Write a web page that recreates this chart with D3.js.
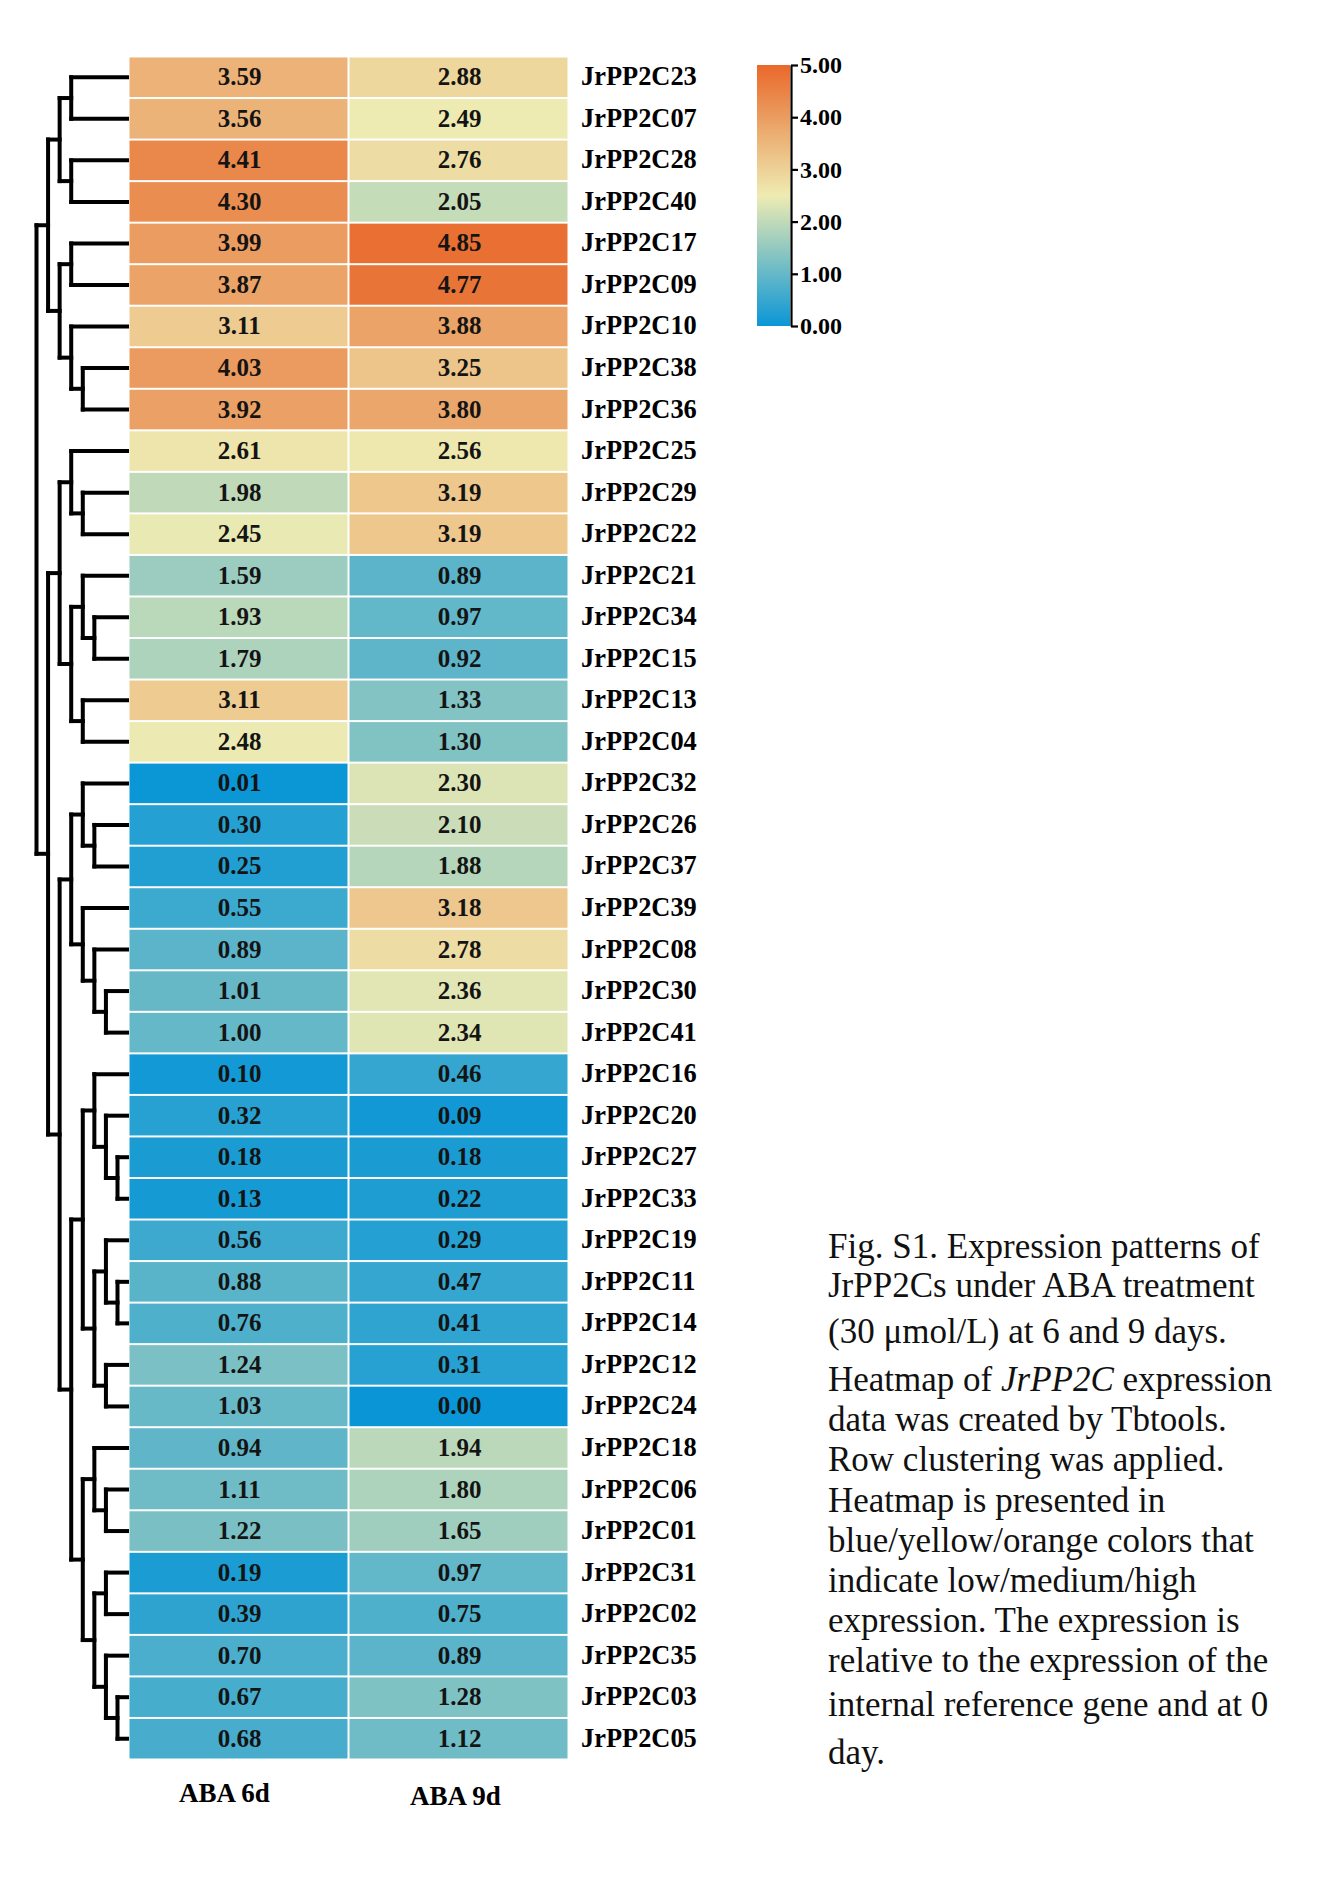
<!DOCTYPE html>
<html>
<head>
<meta charset="utf-8">
<script src="https://cdn.jsdelivr.net/npm/d3@7"></script>
<style>
  html, body { margin: 0; padding: 0; background: #fff; }
  svg { display: block; }
</style>
</head>
<body>
<div id="chart"></div>
<script>
// ---------------- DATA ----------------
const genes = ["JrPP2C23","JrPP2C07","JrPP2C28","JrPP2C40","JrPP2C17","JrPP2C09","JrPP2C10","JrPP2C38","JrPP2C36",
  "JrPP2C25","JrPP2C29","JrPP2C22","JrPP2C21","JrPP2C34","JrPP2C15","JrPP2C13","JrPP2C04","JrPP2C32","JrPP2C26",
  "JrPP2C37","JrPP2C39","JrPP2C08","JrPP2C30","JrPP2C41","JrPP2C16","JrPP2C20","JrPP2C27","JrPP2C33","JrPP2C19",
  "JrPP2C11","JrPP2C14","JrPP2C12","JrPP2C24","JrPP2C18","JrPP2C06","JrPP2C01","JrPP2C31","JrPP2C02","JrPP2C35",
  "JrPP2C03","JrPP2C05"];
const conditions = ["ABA 6d", "ABA 9d"];
const aba6d = [3.59,3.56,4.41,4.30,3.99,3.87,3.11,4.03,3.92,
  2.61,1.98,2.45,1.59,1.93,1.79,3.11,2.48,0.01,0.30,
  0.25,0.55,0.89,1.01,1.00,0.10,0.32,0.18,0.13,0.56,
  0.88,0.76,1.24,1.03,0.94,1.11,1.22,0.19,0.39,0.70,
  0.67,0.68];
const aba9d = [2.88,2.49,2.76,2.05,4.85,4.77,3.88,3.25,3.80,
  2.56,3.19,3.19,0.89,0.97,0.92,1.33,1.30,2.30,2.10,
  1.88,3.18,2.78,2.36,2.34,0.46,0.09,0.18,0.22,0.29,
  0.47,0.41,0.31,0.00,1.94,1.80,1.65,0.97,0.75,0.89,
  1.28,1.12];
const legendTicks = [0, 1, 2, 3, 4, 5];
// row dendrogram: [mergeLevel, left, right]; numbers are row indices
const dendrogram = [8,
  [7, [6, [5, 0, 1], [5, 2, 3]],
      [6, [5, 4, 5], [5, 6, [4, 7, 8]]]],
  [7, [6, [5, 9, [4, 10, 11]],
          [5, [4, 12, [3, 13, 14]], [4, 15, 16]]],
      [6, [5, [4, 17, [3, 18, 19]], [4, 20, [3, 21, [2, 22, 23]]]],
          [5, [4, [3, 24, [2, 25, [1, 26, 27]]], [3, [2, 28, [1, 29, 30]], [2, 31, 32]]],
              [4, [3, 33, [2, 34, 35]], [3, [2, 36, 37], [2, 38, [1, 39, 40]]]]]]]];
const captionLines = [
  [["Fig. S1. Expression patterns of", false]],
  [["JrPP2Cs under ABA treatment", false]],
  [["(30 \u03bcmol/L) at 6 and 9 days.", false]],
  [["Heatmap of ", false], ["JrPP2C", true], [" expression", false]],
  [["data was created by Tbtools.", false]],
  [["Row clustering was applied.", false]],
  [["Heatmap is presented in", false]],
  [["blue/yellow/orange colors that", false]],
  [["indicate low/medium/high", false]],
  [["expression. The expression is", false]],
  [["relative to the expression of the", false]],
  [["internal reference gene and at 0", false]],
  [["day.", false]]
];

// ---------------- LAYOUT ----------------
const W = 1324, H = 1904;
const serif = "'Liberation Serif', 'Times New Roman', Times, serif";
const hm = { x0: 128.5, x1: 568.5, y0: 56.5, y1: 1759.5 };
const captionBaselines = [1258, 1297, 1343, 1391, 1431, 1471, 1512, 1552, 1592, 1632, 1672, 1716, 1764];

const svg = d3.select("#chart").append("svg")
  .attr("width", W).attr("height", H)
  .attr("viewBox", `0 0 ${W} ${H}`);
svg.append("rect").attr("width", W).attr("height", H).attr("fill", "#fff");

const yRow = d3.scaleBand().domain(d3.range(genes.length)).range([hm.y0, hm.y1]).padding(0);
const xCol = d3.scaleBand().domain(conditions).range([hm.x0, hm.x1]).padding(0);
const color = d3.scaleLinear().domain([0, 2.5, 5])
  .range(["rgb(10,150,214)", "rgb(238,235,178)", "rgb(233,104,42)"])
  .interpolate(d3.interpolateRgb).clamp(true);

const cells = [];
genes.forEach((g, i) => {
  cells.push({ row: i, col: conditions[0], v: aba6d[i] });
  cells.push({ row: i, col: conditions[1], v: aba9d[i] });
});

const gap = 1;
const cellG = svg.append("g");
cellG.selectAll("rect").data(cells).join("rect")
  .attr("x", d => xCol(d.col) + gap)
  .attr("y", d => yRow(d.row) + gap)
  .attr("width", xCol.bandwidth() - 2 * gap)
  .attr("height", yRow.bandwidth() - 2 * gap)
  .attr("fill", d => color(d.v));

cellG.selectAll("text").data(cells).join("text")
  .attr("x", d => xCol(d.col) + xCol.bandwidth() / 2 + 1)
  .attr("y", d => yRow(d.row) + yRow.bandwidth() / 2 + 8)
  .attr("text-anchor", "middle")
  .attr("font-family", serif).attr("font-weight", "bold").attr("font-size", 25)
  .attr("fill", "#141414")
  .text(d => d3.format(".2f")(d.v));

// gene labels
svg.append("g").selectAll("text").data(genes).join("text")
  .attr("x", hm.x1 + 12.5)
  .attr("y", (d, i) => yRow(i) + yRow.bandwidth() / 2 + 8)
  .attr("font-family", serif).attr("font-weight", "bold").attr("font-size", 26.4)
  .attr("fill", "#000")
  .text(d => d);

// column labels
const colLabelOffsets = [-14, -3];
const colLabelBase = [1802, 1805];
svg.append("g").selectAll("text").data(conditions).join("text")
  .attr("x", (d, i) => xCol(d) + xCol.bandwidth() / 2 + colLabelOffsets[i])
  .attr("y", (d, i) => colLabelBase[i])
  .attr("text-anchor", "middle")
  .attr("font-family", serif).attr("font-weight", "bold").attr("font-size", 27)
  .attr("fill", "#000")
  .text(d => d);

// ---------------- DENDROGRAM ----------------
const levelX = d3.scaleLinear().domain([1, 8]).range([117.5, 36.5]);
const leafX = 127;
const root = d3.hierarchy(dendrogram, d => Array.isArray(d) ? d.slice(1) : null);
root.eachAfter(n => {
  if (!n.children) {
    n.px = leafX;
    n.py = yRow(n.data) + yRow.bandwidth() / 2;
  } else {
    n.px = levelX(n.data[0]);
    n.py = (n.children[0].py + n.children[n.children.length - 1].py) / 2;
  }
});
const segs = [];
root.each(n => {
  if (n.children) {
    segs.push([n.px, n.children[0].py, n.px, n.children[n.children.length - 1].py]);
    n.children.forEach(c => segs.push([n.px, c.py, c.px, c.py]));
  }
});
svg.append("g").selectAll("line").data(segs).join("line")
  .attr("x1", d => d[0]).attr("y1", d => d[1])
  .attr("x2", d => d[2]).attr("y2", d => d[3])
  .attr("stroke", "#000").attr("stroke-width", 4)
  .attr("stroke-linecap", "square");

// ---------------- LEGEND ----------------
const lg = { x: 757, w: 33, y0: 65, y1: 326 };
const legScale = d3.scaleLinear().domain([0, 5]).range([lg.y1, lg.y0]);
const defs = svg.append("defs");
const grad = defs.append("linearGradient").attr("id", "lgrad")
  .attr("x1", 0).attr("y1", 1).attr("x2", 0).attr("y2", 0);
d3.range(0, 5.01, 0.25).forEach(v => {
  grad.append("stop").attr("offset", v / 5).attr("stop-color", color(v));
});
svg.append("rect").attr("x", lg.x).attr("y", lg.y0)
  .attr("width", lg.w).attr("height", lg.y1 - lg.y0)
  .attr("fill", "url(#lgrad)");
const axisG = svg.append("g").attr("transform", `translate(${lg.x + lg.w + 1},0)`)
  .call(d3.axisRight(legScale).tickValues(legendTicks).tickFormat(d3.format(".2f"))
    .tickSize(7).tickSizeOuter(0).tickPadding(2));
axisG.select(".domain").attr("stroke", "#000").attr("stroke-width", 2.2);
axisG.selectAll(".tick line").attr("stroke", "#000").attr("stroke-width", 2.2);
axisG.selectAll(".tick text")
  .attr("font-family", serif).attr("font-weight", "bold").attr("font-size", 24)
  .attr("fill", "#000");

// ---------------- CAPTION ----------------
const cap = svg.append("g");
captionLines.forEach((segsL, i) => {
  const t = cap.append("text")
    .attr("x", 828).attr("y", captionBaselines[i])
    .attr("font-family", serif).attr("font-size", 35).attr("fill", "#111")
    .attr("xml:space", "preserve").style("white-space", "pre");
  segsL.forEach(s => {
    t.append("tspan").attr("font-style", s[1] ? "italic" : "normal").text(s[0]);
  });
});
</script>
</body>
</html>
